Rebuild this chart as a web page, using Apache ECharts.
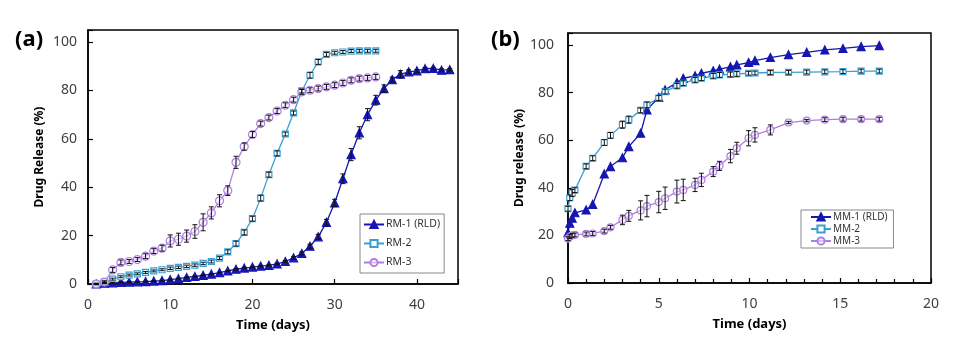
<!DOCTYPE html>
<html><head><meta charset="utf-8">
<script src="https://cdn.jsdelivr.net/npm/echarts@6/dist/echarts.min.js"></script>
<style>html,body{margin:0;padding:0;background:#fff}#c{width:969px;height:347px}</style>
</head><body><div id="c"></div><script>
// ---- Panel (a) ----
const daysRM1 = [1,2,3,4,5,6,7,8,9,10,11,12,13,14,15,16,17,18,19,20,21,22,23,24,25,26,27,28,29,30,31,32,33,34,35,36,37,38,39,40,41,42,43,44];
const RM1 = [0,0.3,0.5,0.7,0.8,0.9,1.0,1.2,1.4,1.8,2.2,2.7,3.1,3.6,4.1,4.7,5.4,6.1,6.6,7.0,7.4,7.7,8.3,9.3,10.8,12.6,15.6,19.5,25.5,33.5,43.5,53.5,62.5,70,76,80.8,84.5,86.7,87.7,88.1,89.0,89.1,88.4,88.6];
const RM1err = [0.2,0.2,0.2,0.2,0.2,0.2,0.2,0.2,0.2,0.2,0.2,0.2,0.2,0.2,0.2,0.2,0.2,0.3,0.3,0.3,0.3,0.3,0.3,0.4,0.5,0.6,0.8,1.0,1.2,1.5,2.0,2.5,2.5,2.5,2.0,1.5,1.0,1.5,0.8,0.6,0.5,0.5,0.5,0.5];
const daysRM23 = [1,2,3,4,5,6,7,8,9,10,11,12,13,14,15,16,17,18,19,20,21,22,23,24,25,26,27,28,29,30,31,32,33,34,35];
const RM2 = [0,0.9,2.0,3.0,3.7,4.2,4.8,5.4,5.9,6.5,6.9,7.3,7.8,8.5,9.3,10.7,13.3,16.7,21.3,27.0,35.5,45.2,54,62,70.7,79.8,86.3,91.8,94.9,95.6,95.9,96.3,96.4,96.4,96.4];
const RM2err = [0.3,0.3,0.4,0.4,0.4,0.4,0.4,0.4,0.4,0.5,0.5,0.5,0.5,0.5,0.6,0.6,0.8,1.0,1.0,1.0,1.2,1.0,1.0,0.8,0.8,0.8,1.2,1.0,0.8,0.6,0.6,0.6,0.6,0.6,0.6];
const RM3 = [0,0.8,5.8,8.9,9.3,10.1,11.5,13.6,14.8,17.8,18.5,19.8,21.7,25.5,29.4,34.4,38.6,50.3,56.8,61.8,66.3,68.8,71.5,73.9,76.2,79.4,80.1,80.8,81.5,82.2,83.1,84.2,84.9,85.2,85.6];
const RM3err = [0.3,0.5,1.0,1.0,0.8,0.8,1.0,1.0,1.2,2.5,2.5,2.5,2.8,3.5,2.5,2.5,2.0,2.5,1.5,1.2,1.0,1.0,1.0,1.0,1.0,1.0,1.0,1.0,1.0,1.0,1.0,1.0,1.0,1.0,1.0];
const ticksA_x = [0,10,20,30,40];
const ticksA_y = [0,20,40,60,80,100];
// ---- Panel (b) ----
const timeMM = [0,0.1,0.23,0.38,1,1.36,2,2.34,3,3.35,4,4.35,5,5.35,6,6.35,7,7.35,8,8.35,8.95,9.3,9.95,10.3,11.15,12.15,13.15,14.15,15.15,16.15,17.15];
const MM1 = [21.1,25.1,27.2,29.5,30.7,33,45.8,48.9,52.6,57.3,62.9,72.7,78,81.1,84.2,86,87,88.1,89.1,89.8,90.8,91.6,92.6,93.4,94.7,95.9,96.9,97.9,98.5,99.3,99.7];
const MM2 = [31.2,35.8,37.8,39,49,52.4,59,62,66.5,68.6,72.5,74.8,77.7,80.4,82.8,83.9,85.3,86,87,87.4,87.6,87.8,88.1,88.2,88.4,88.5,88.6,88.7,88.8,89,89];
const MM2err = [1,1.2,1.5,1,1,1,1.2,1.2,1.5,1.5,1,1.2,1,1,1,1,1,1,1,1,1,1,0.8,0.8,0.8,0.8,0.8,0.8,0.8,0.8,0.8];
const MM3 = [18.6,19.5,20.0,20.2,20.6,20.8,21.8,23.4,26.5,28.2,30.5,32.3,34,35.6,38.4,39.1,41.2,43.3,46.8,49.2,53.3,56.6,60.8,62.2,64.3,67.4,68.2,68.6,68.8,68.8,68.8];
const MM3err = [0.8,0.8,0.8,0.8,0.8,0.8,0.8,0.8,2,2.3,4,4.5,4.5,4.7,4.8,4.5,2.8,2.8,2.1,1.9,2.8,2.5,3.2,3,2.1,0.5,0.5,0.8,0.8,0.8,0.8];
const ticksB_x = [0,5,10,15,20];

const FONT = 'Noto Sans';
const cBlue = '#1616b0', cLight = '#3a9fd2', cPurple = '#b07fe2';
const zip = (xs, ys) => xs.map((x, i) => [x, ys[i]]);

function errSeries(xs, ys, es, gi) {
  return {
    type: 'custom', xAxisIndex: gi, yAxisIndex: gi, z: 6, silent: true,
    data: xs.map((x, i) => [x, ys[i] - es[i], ys[i] + es[i]]),
    encode: { x: 0, y: [1, 2] },
    renderItem: function (p, api) {
      const lo = api.coord([api.value(0), api.value(1)]);
      const hi = api.coord([api.value(0), api.value(2)]);
      const w = 2.5, st = { stroke: '#111', lineWidth: 1 };
      return { type: 'group', children: [
        { type: 'line', shape: { x1: lo[0], y1: lo[1], x2: hi[0], y2: hi[1] }, style: st },
        { type: 'line', shape: { x1: lo[0] - w, y1: lo[1], x2: lo[0] + w, y2: lo[1] }, style: st },
        { type: 'line', shape: { x1: hi[0] - w, y1: hi[1], x2: hi[0] + w, y2: hi[1] }, style: st }
      ]};
    }
  };
}

function xAxisCfg(gi, max, interval, gap, minor, allowed) {
  return {
    gridIndex: gi, type: 'value', min: 0, max: max, interval: interval,
    name: 'Time (days)', nameLocation: 'middle', nameGap: gap,
    nameTextStyle: { fontFamily: FONT, fontWeight: 'bold', fontSize: 13, color: '#000' },
    axisLine: { show: true, lineStyle: { color: '#000', width: 1.5 } },
    axisTick: { show: true, inside: true, length: 5, lineStyle: { color: '#000', width: 1.2 } },
    minorTick: { show: minor, splitNumber: 5, length: 4, lineStyle: { color: '#000', width: 1.2 } },
    axisLabel: { margin: 14, fontFamily: FONT, fontSize: 14, color: '#404040',
      formatter: v => allowed.indexOf(v) >= 0 ? String(v) : '' },
    splitLine: { show: false }
  };
}
function yAxisCfg(gi, name) {
  return {
    gridIndex: gi, type: 'value', min: 0, max: 105, interval: 20,
    name: name, nameLocation: 'middle', nameGap: 42,
    nameTextStyle: { fontFamily: FONT, fontWeight: 'bold', fontSize: 12, color: '#000' },
    axisLine: { show: true, lineStyle: { color: '#000', width: 1.5 } },
    axisTick: { show: true, inside: true, length: 5, lineStyle: { color: '#000', width: 1.2 } },
    axisLabel: { margin: gi === 0 ? 11 : 14, fontFamily: FONT, fontSize: 14, color: '#404040',
      formatter: v => ticksA_y.indexOf(v) >= 0 ? String(v) : '' },
    splitLine: { show: false }
  };
}
function lineSeries(name, data, gi, symbol, size, color, fill) {
  return {
    type: 'line', name: name, xAxisIndex: gi, yAxisIndex: gi, data: data,
    symbol: symbol, symbolSize: size, showAllSymbol: true, z: 3,
    lineStyle: { color: color, width: 1.3 },
    itemStyle: { color: fill, borderColor: color, borderWidth: 1.2 }
  };
}

const chart = echarts.init(document.getElementById('c'), null, { renderer: 'canvas' });
chart.setOption({
  animation: false,
  backgroundColor: '#fff',
  graphic: [
    { type: 'text', left: 15, top: 29, style: { text: '(a)', font: 'bold 22px "Noto Sans"', fill: '#000' } },
    { type: 'text', left: 491, top: 29, style: { text: '(b)', font: 'bold 22px "Noto Sans"', fill: '#000' } }
  ],
  grid: [
    { left: 88, right: 511, top: 30, bottom: 63, show: true, borderColor: '#000', borderWidth: 1.5 },
    { left: 568, right: 38, top: 33, bottom: 64, show: true, borderColor: '#000', borderWidth: 1.5 }
  ],
  xAxis: [ xAxisCfg(0, 45, 10, 35, false, ticksA_x), xAxisCfg(1, 20, 5, 35, true, ticksB_x) ],
  yAxis: [ yAxisCfg(0, 'Drug Release (%)'), yAxisCfg(1, 'Drug release (%)') ],
  legend: [
    { data: ['RM-1 (RLD)', 'RM-2', 'RM-3'], orient: 'vertical', left: 360, top: 214,
      padding: [5, 4, 5, 3], itemWidth: 20, itemHeight: 9, itemGap: 8,
      borderColor: '#888', borderWidth: 1, backgroundColor: '#fff',
      textStyle: { fontFamily: FONT, fontSize: 10.5, color: '#333', padding: [0, 0, 0, -3] } },
    { data: ['MM-1 (RLD)', 'MM-2', 'MM-3'], orient: 'vertical', left: 801, top: 210,
      padding: [2, 6, 2, 9], itemWidth: 20, itemHeight: 9, itemGap: 2,
      borderColor: '#888', borderWidth: 1, backgroundColor: '#fff',
      textStyle: { fontFamily: FONT, fontSize: 10, color: '#333', padding: [0, 0, 0, -3] } }
  ],
  series: [
    lineSeries('RM-1 (RLD)', zip(daysRM1, RM1), 0, 'triangle', 8, cBlue, cBlue),
    lineSeries('RM-2', zip(daysRM23, RM2), 0, 'rect', 6, cLight, '#fff'),
    lineSeries('RM-3', zip(daysRM23, RM3), 0, 'circle', 8, cPurple, 'rgba(255,255,255,0.5)'),
    errSeries(daysRM1, RM1, RM1err, 0),
    errSeries(daysRM23, RM2, RM2err, 0),
    errSeries(daysRM23, RM3, RM3err, 0),
    lineSeries('MM-1 (RLD)', zip(timeMM, MM1), 1, 'triangle', 8, cBlue, cBlue),
    lineSeries('MM-2', zip(timeMM, MM2), 1, 'rect', 6, cLight, '#fff'),
    lineSeries('MM-3', zip(timeMM, MM3), 1, 'circle', 7, cPurple, 'rgba(255,255,255,0.5)'),
    errSeries(timeMM, MM2, MM2err, 1),
    errSeries(timeMM, MM3, MM3err, 1)
  ]
});
</script></body></html>
